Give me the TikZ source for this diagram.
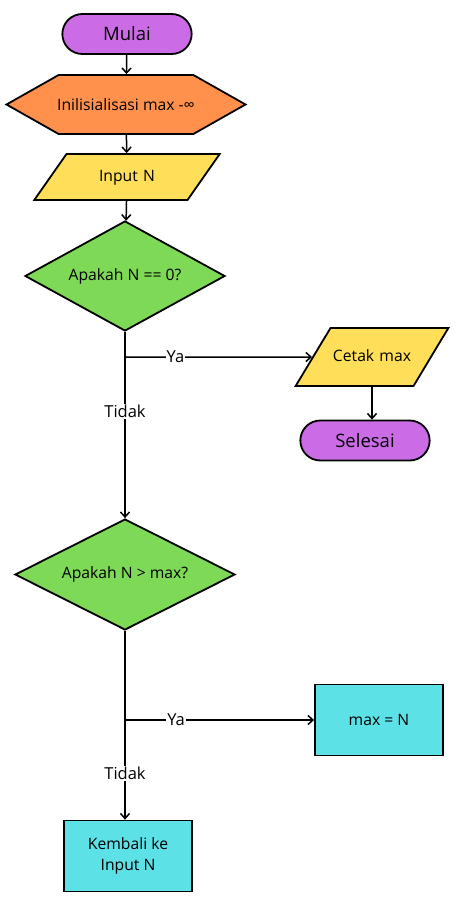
\documentclass[tikz,border=0pt]{standalone}
\usepackage{fontspec}
\setmainfont{Open Sans}
\usetikzlibrary{shapes.geometric,shapes.misc,shapes.symbols,arrows.meta}
\definecolor{ungu}{HTML}{CB6CE6}
\definecolor{oranye}{HTML}{FF914D}
\definecolor{kuning}{HTML}{FFDE59}
\definecolor{hijau}{HTML}{7ED957}
\definecolor{biru}{HTML}{5CE1E6}
\tikzstyle{terminal} = [rounded rectangle, draw=black, fill=ungu, line width=1.8pt, minimum width=136pt, minimum height=40pt, font=\fontsize{18.5}{22}\selectfont]
\tikzstyle{persiapan} = [signal, signal to=east and west, signal pointer angle=59, inner xsep=-2pt, draw=black, fill=oranye, line width=1.8pt, minimum width=239pt, minimum height=59pt, font=\fontsize{15.7}{19}\selectfont]
\tikzstyle{io} = [trapezium, text height=12pt, text depth=4pt, align=center, draw=black, fill=kuning, line width=1.8pt, font=\fontsize{15.7}{19}\selectfont]
\tikzstyle{keputusan} = [diamond, aspect=1.9, inner sep=0pt, draw=black, fill=hijau, line width=1.8pt, font=\fontsize{15.7}{19}\selectfont]
\tikzstyle{proses} = [rectangle, draw=black, fill=biru, line width=1.8pt, minimum width=128pt, minimum height=71pt, align=center, font=\fontsize{15.7}{21}\selectfont]
\tikzstyle{panah} = [-{Straight Barb[length=5pt,width=9pt]}, line width=1.5pt]
\tikzstyle{ket} = [fill=white, inner sep=1pt, font=\fontsize{16.5}{20}\selectfont]

\begin{document}
\begin{tikzpicture}[x=1pt, y=-1pt]
            \useasboundingbox[fill=white] (0,0) rectangle (468,905);

            \node (mulai) [terminal] at (127,34) {Mulai};
            \node (init) [persiapan] at (126,104.5) {Inilisialisasi max -∞};
            \node (input) [io, trapezium left angle=55, trapezium right angle=125, text width=100pt, inner xsep=10.5pt, inner ysep=15pt] at (127,177) {Input N};
            \node (cek0) [keputusan, minimum width=200pt, minimum height=110pt] at (125,276) {Apakah N == 0?};
            \node (cetak) [io, trapezium left angle=59, trapezium right angle=121, text width=80pt, inner xsep=1.5pt, inner ysep=21pt] at (372,357) {Cetak max};
            \node (selesai) [terminal] at (365,440.5) {Selesai};
            \node (cekmax) [keputusan, minimum width=220pt, minimum height=111pt] at (125,574.5) {Apakah N > max?};
            \node (maxn) [proses] at (379,720) {max = N};
            \node (kembali) [proses] at (128,856) {Kembali ke\\Input N};

            \coordinate (j1) at (125,357);
            \coordinate (j2) at (125,720);

            \draw[panah] (mulai) -- (init);
            \draw[panah] (init) -- (input);
            \draw[panah] (input) -- (cek0);
            \draw[line width=1.5pt] (cek0) -- (j1);
            \draw[panah] (j1) -- node[ket, pos=0.27]{Ya} (cetak);
            \draw[panah] (j1) -- node[ket, pos=0.34]{Tidak} (cekmax);
            \draw[panah] (cetak.south) -- (cetak.south |- selesai.north);
            \draw[line width=1.5pt] (cekmax) -- (j2);
            \draw[panah] (j2) -- node[ket, pos=0.27]{Ya} (maxn);
            \draw[panah] (j2) -- node[ket, pos=0.54]{Tidak} (j2 |- kembali.north);
        \end{tikzpicture}
\end{document}
